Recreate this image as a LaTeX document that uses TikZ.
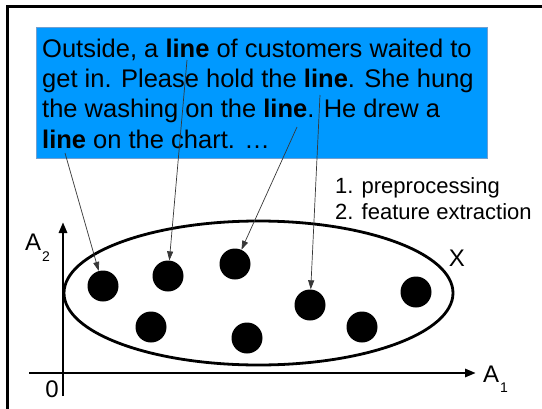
\documentclass[tikz,border=0pt]{standalone}
\usepackage{fontspec}
\setmainfont{Liberation Sans}
\usetikzlibrary{shapes.geometric,arrows.meta,positioning}

\definecolor{skyblue}{RGB}{0,153,255}
\definecolor{boxedge}{RGB}{114,159,207}
\definecolor{pointergray}{RGB}{55,55,55}

\begin{document}
\begin{tikzpicture}[x=1pt,y=-1pt,
    quotebox/.style={rectangle,fill=skyblue,draw=boxedge,line width=0.6pt,
                     minimum width=451pt,minimum height=131pt,inner sep=0pt},
    quoteline/.style={anchor=base west,inner sep=0pt,
                      font=\fontsize{25.5}{30}\selectfont},
    sample/.style={circle,fill=black,minimum size=31pt,inner sep=0pt},
    pointer/.style={-{Triangle[length=9pt,width=6pt]},draw=pointergray,
                    line width=0.7pt},
    axis/.style={-{Triangle[length=11pt,width=8pt]},line width=2.9pt},
    biglabel/.style={inner sep=0pt,font=\fontsize{24}{24}\selectfont},
    steptext/.style={anchor=base west,inner sep=0pt,
                     font=\fontsize{22}{26}\selectfont}]

  \useasboundingbox (0,0) rectangle (542,408);
  \clip (0,0) rectangle (542,408);

  % slide frame
  \draw[line width=2.2pt] (7.5,430) -- (7.5,6.5) -- (560,6.5);

  % sentences
  \node[quotebox] (quote) at (261.5,92.5) {};
  \node[quoteline] (t1) at (42,57.5) {Outside, a \textbf{line} of customers waited to};
  \node[quoteline] (t2) at (42,87.5) {get in. Please hold the \textbf{line}. She hung};
  \node[quoteline] (t3) at (42,117.5) {the washing on the \textbf{line}. He drew a};
  \node[quoteline] (t4) at (42,148) {\textbf{line} on the chart. …};

  \coordinate (w1) at (65,153);
  \coordinate (w2) at (187,60);
  \coordinate (w3) at (297,127);
  \coordinate (w4) at (320,95);

  \node[steptext] (prep) at (335,193) {1. preprocessing};
  \node[steptext] (feat) at (335,219) {2. feature extraction};

  % feature space
  \coordinate (ytop)   at (63,222);
  \coordinate (ybot)   at (63,396);
  \coordinate (xleft)  at (29,373);
  \coordinate (xright) at (476,373);
  \draw[axis] (ybot) -- (ytop);
  \draw[axis] (xleft) -- (xright);

  \node[biglabel,anchor=base west] (a2) at (25,250)
       {A\kern1pt\raisebox{-11pt}{\fontsize{14}{14}\selectfont 2}};
  \node[biglabel,anchor=base west] (a1) at (483,382)
       {A\kern1pt\raisebox{-10pt}{\fontsize{14}{14}\selectfont 1}};
  \node[biglabel] (zero) at (52,389) {0};

  \node[draw,ellipse,line width=2.8pt,minimum width=389pt,
        minimum height=144pt,inner sep=0pt] (X) at (258.5,293) {};
  \node[biglabel] (xname) at (457,258) {X};

  \node[sample] (d1) at (103,286) {};
  \node[sample] (d2) at (168,276) {};
  \node[sample] (d3) at (235,264) {};
  \node[sample] (d4) at (151,327) {};
  \node[sample] (d5) at (247,338) {};
  \node[sample] (d6) at (310,305) {};
  \node[sample] (d7) at (362,327) {};
  \node[sample] (d8) at (416,292) {};

  \draw[pointer] (w1) -- (d1);
  \draw[pointer] (w2) -- (d2);
  \draw[pointer] (w3) -- (d3);
  \draw[pointer] (w4) -- (d6);
\end{tikzpicture}
\end{document}
